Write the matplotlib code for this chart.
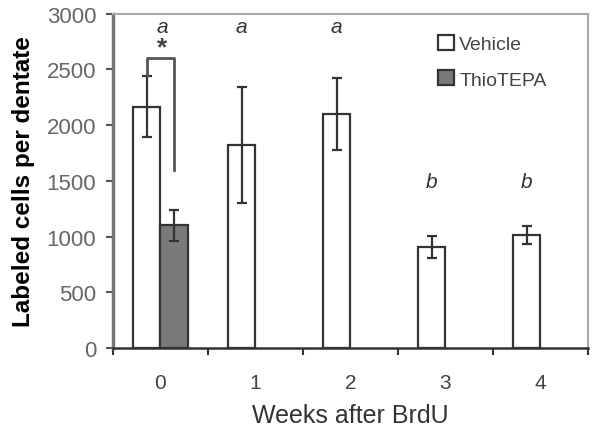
import matplotlib
matplotlib.use("Agg")
import matplotlib.pyplot as plt
import numpy as np

plt.rcParams['font.family'] = ['Liberation Sans', 'DejaVu Sans']

weeks = ["0", "1", "2", "3", "4"]
vehicle = [2165, 1825, 2100, 905, 1015]
vehicle_err = [275, 520, 325, 100, 80]
thio = [1100]
thio_err = [140]
letters = ["a", "a", "a", "b", "b"]
letter_y = [2890, 2890, 2890, 1490, 1490]

x = np.arange(len(weeks))
w = 0.29

fig = plt.figure(figsize=(6, 4.35), dpi=100)
ax = fig.add_axes([0.188, 0.198, 0.792, 0.768])

ax.bar(x - w / 2, vehicle, w, color="white", edgecolor="#333333", linewidth=1.6,
       label="Vehicle", zorder=2)
ax.bar(x[:1] + w / 2, thio, w, color="#7a7a7a", edgecolor="#333333", linewidth=1.6,
       label="ThioTEPA", zorder=2)
ax.errorbar(x - w / 2, vehicle, yerr=vehicle_err, fmt="none", ecolor="#333333",
            elinewidth=1.6, capsize=3.5, capthick=1.6, zorder=3)
ax.errorbar(x[:1] + w / 2, thio, yerr=thio_err, fmt="none", ecolor="#333333",
            elinewidth=1.6, capsize=3.5, capthick=1.6, zorder=3)

# significance bracket for week 0
ax.plot([x[0] - w / 2, x[0] - w / 2, x[0] + w / 2, x[0] + w / 2],
        [2450, 2600, 2600, 1600], color="#555555", linewidth=2, zorder=4)
ax.text(x[0] + 0.02, 2700, "*", ha="center", va="center", fontsize=19,
        fontweight="bold", color="#444444")

# letters sit over the vehicle bars, except week 0 (centred over the pair)
letter_x = [x[0] + 0.02] + list(x[1:] - w / 2)
for lx, lab, ly in zip(letter_x, letters, letter_y):
    ax.text(lx, ly, lab, ha="center", va="center", fontsize=15,
            style="italic", color="#333333")

ax.set_xlim(-0.5, 4.5)
ax.set_ylim(0, 3000)
ax.set_yticks(np.arange(0, 3001, 500))
ax.set_xticks(x)
ax.set_xticklabels(weeks)
ax.set_xticks(np.arange(-0.5, 4.6, 1), minor=True)
ax.tick_params(axis="x", which="major", length=0, pad=18, labelsize=15, labelcolor="#444444")
ax.tick_params(axis="x", which="minor", length=5, width=1.5, color="#333333", direction="out")
ax.tick_params(axis="y", length=5, width=1.5, color="#555555", labelsize=16,
               labelcolor="#666666", pad=7)

for side in ["top", "right"]:
    ax.spines[side].set_color("#aaaaaa")
    ax.spines[side].set_linewidth(1.5)
ax.spines["left"].set_color("#777777")
ax.spines["left"].set_linewidth(2.5)
ax.spines["bottom"].set_color("#333333")
ax.spines["bottom"].set_linewidth(1.8)

ax.set_xlabel("Weeks after BrdU", fontsize=18, color="#333333", labelpad=8)
ax.set_ylabel("Labeled cells per dentate", fontsize=17.5, fontweight="bold", labelpad=8)

ax.legend(loc="upper right", bbox_to_anchor=(0.95, 0.99), frameon=False, fontsize=14,
          handlelength=0.8, handleheight=0.8, handletextpad=0.3, labelspacing=0.9,
          labelcolor="#444444")

fig.savefig("out.png", dpi=100)
